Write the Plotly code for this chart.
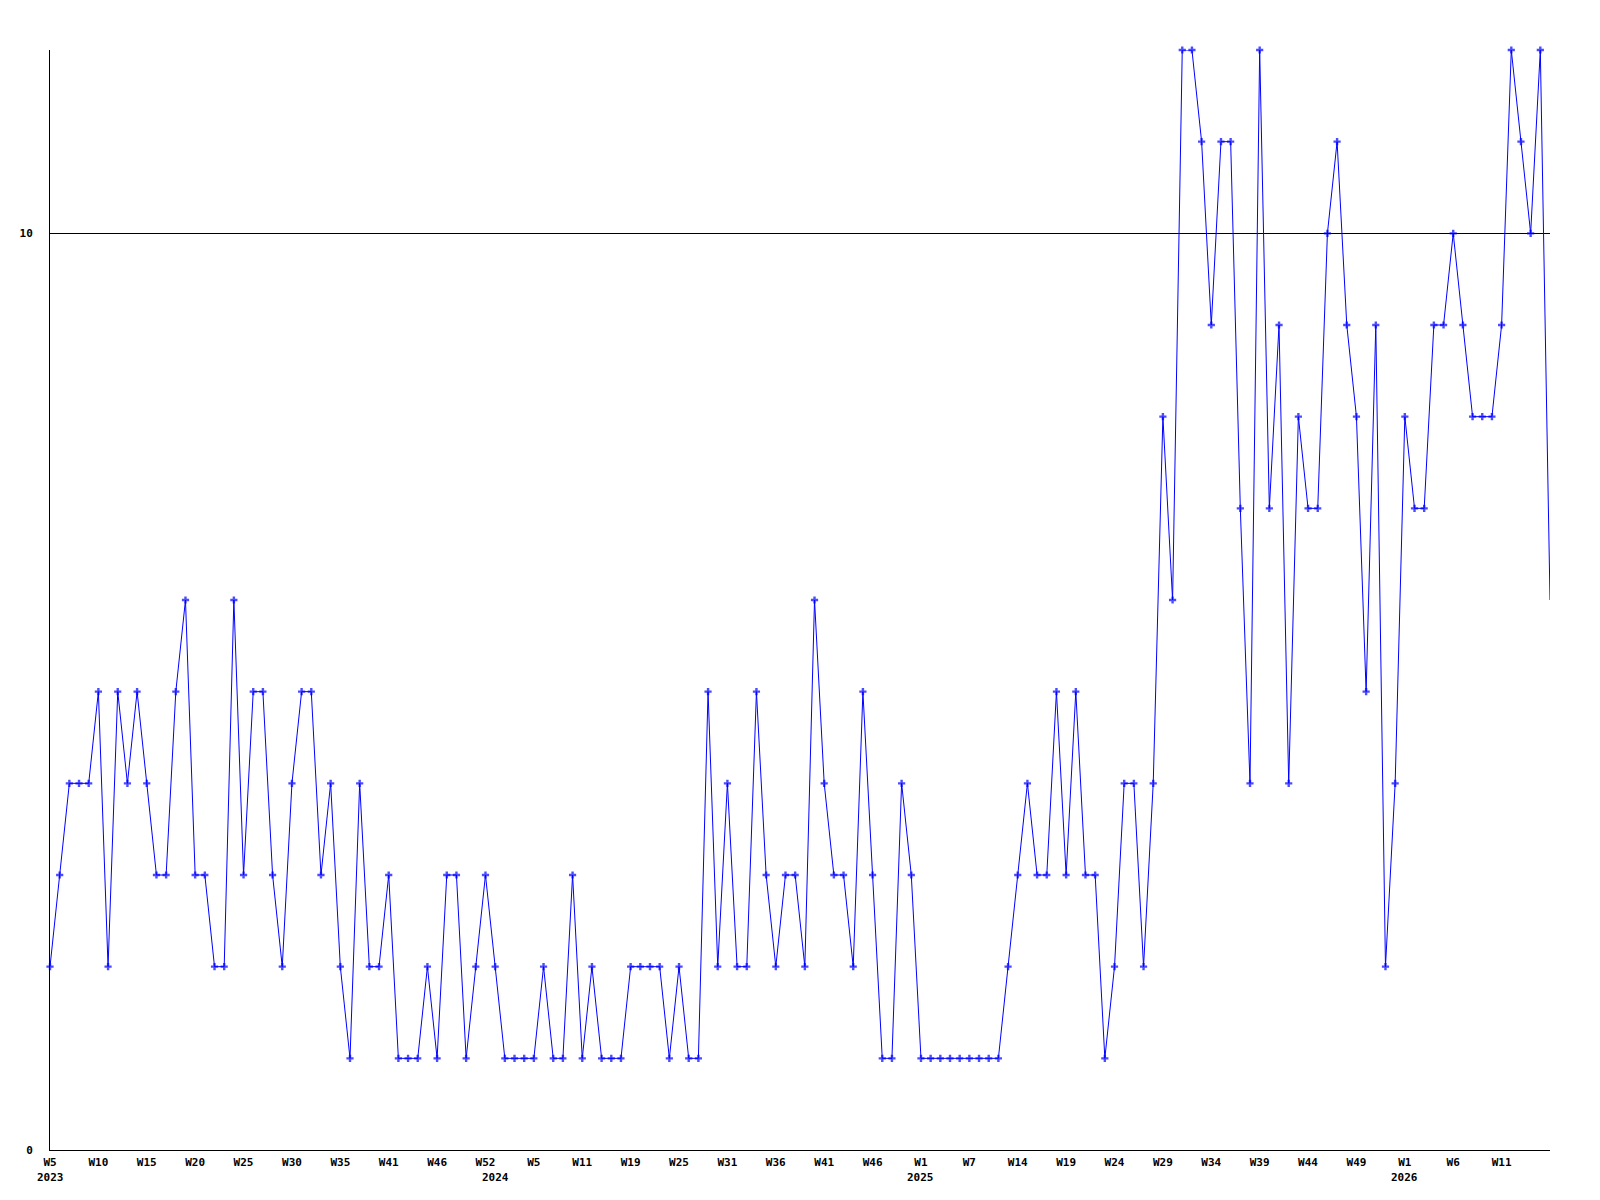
import plotly.graph_objects as go

# Weekly values (index 0 = 2023 W5)
values = [
    2, 3, 4, 4, 4, 5, 2, 5, 4, 5, 4, 3, 3, 5, 6, 3, 3, 2, 2, 6,
    3, 5, 5, 3, 2, 4, 5, 5, 3, 4, 2, 1, 4, 2, 2, 3, 1,
    1, 1, 2, 1, 3, 3, 1, 2, 3, 2, 1, 1, 1, 1, 2, 1, 1, 3, 1,
    2, 1, 1, 1, 2, 2, 2, 2, 1, 2, 1, 1, 5, 2, 4, 2,
    2, 5, 3, 2, 3, 3, 2, 6, 4, 3, 3, 2, 5, 3, 1, 1, 4, 3,
    1, 1, 1, 1, 1, 1, 1, 1, 1, 2, 3, 4, 3, 3, 5, 3, 5,
    3, 3, 1, 2, 4, 4, 2, 4, 8, 6, 12, 12, 11, 9, 11, 11, 7, 4,
    12, 7, 9, 4, 8, 7, 7, 10, 11, 9, 8, 5, 9, 2, 4, 8, 7, 7,
    9, 9, 10, 9, 8, 8, 8, 9, 12, 11, 10, 12, 6,
]

tick_labels = [
    "W5", "W10", "W15", "W20", "W25", "W30", "W35", "W41", "W46", "W52",
    "W5", "W11", "W19", "W25", "W31", "W36", "W41", "W46",
    "W1", "W7", "W14", "W19", "W24", "W29", "W34", "W39", "W44", "W49",
    "W1", "W6", "W11",
]
tick_step = 5

years = ["2023", "2024", "2025", "2026"]
year_index = [0, 46, 90, 140]

y_ticks = [0, 10]
y_max = 12

x = list(range(len(values)))
marker_sizes = [6] * (len(values) - 1) + [0]

font = dict(family="DejaVu Sans Mono", size=11, color="black", weight="bold")

fig = go.Figure()
fig.add_trace(go.Scatter(
    x=x, y=values, mode="lines+markers",
    line=dict(color="#0000ff", width=1),
    marker=dict(symbol="cross", size=marker_sizes, color="#0000ff", line=dict(width=0)),
    cliponaxis=False,
    showlegend=False,
))

for yr, idx in zip(years, year_index):
    fig.add_annotation(
        x=idx, y=0, xref="x", yref="paper", text=yr, showarrow=False,
        yanchor="top", xanchor="center", yshift=-19, font=font,
    )

fig.update_layout(
    width=1600, height=1200,
    margin=dict(l=42, r=58, t=42, b=58, autoexpand=False),
    paper_bgcolor="white", plot_bgcolor="white",
)
fig.update_xaxes(
    range=[0, len(values) - 1],
    tickmode="array",
    tickvals=list(range(0, len(values), tick_step))[:len(tick_labels)],
    ticktext=tick_labels,
    showgrid=False, zeroline=False,
    showline=True, linecolor="black", linewidth=1,
    ticks="", tickfont=font, ticklabelstandoff=2, automargin=False,
)
fig.update_yaxes(
    range=[0, y_max],
    tickmode="array", tickvals=y_ticks, ticktext=[str(v) for v in y_ticks],
    showgrid=True, gridcolor="black", gridwidth=1,
    zeroline=False,
    showline=True, linecolor="black", linewidth=1,
    ticks="", tickfont=font, ticklabelstandoff=14, automargin=False,
)

fig.write_html("out.html")
